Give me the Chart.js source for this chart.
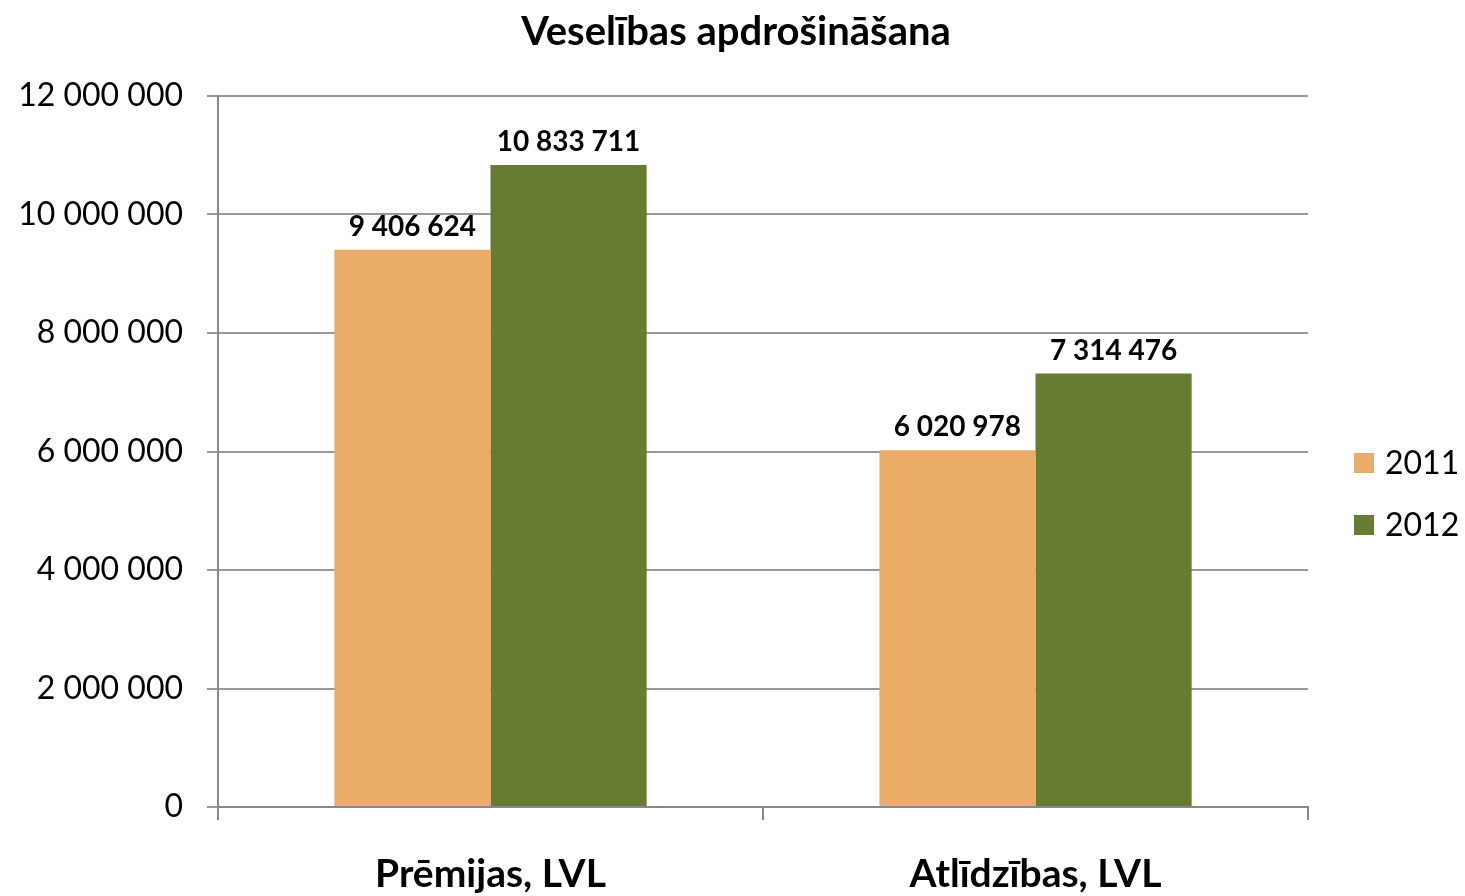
<!DOCTYPE html>
<html>
<head>
<meta charset="utf-8">
<script src="https://cdn.jsdelivr.net/npm/chart.js@4"></script>
<style>
  html, body { margin: 0; padding: 0; background: #fff; }
  #wrap { width: 1465px; height: 896px; }
</style>
</head>
<body>
<div id="wrap"><canvas id="chart" width="1465" height="896"></canvas></div>
<script>
const title = "Veselības apdrošināšana";
const categories = ["Prēmijas, LVL", "Atlīdzības, LVL"];
const years = ["2011", "2012"];
const values2011 = [9406624, 6020978];
const values2012 = [10833711, 7314476];
const colors = ["#ebac67", "#667c33"];
const FONT = "Lato, 'Open Sans', sans-serif";

// 10833711 -> "10 833 711"
const fmt = v => String(v).replace(/\B(?=(\d{3})+(?!\d))/g, " ");

// title, value labels and legend drawn on the canvas
const extras = {
    id: "extras",
    afterDatasetsDraw(chart) {
        const c = chart.ctx;
        c.save();
        c.fillStyle = "#000";
        c.textAlign = "center";
        c.textBaseline = "alphabetic";
        c.font = "bold 28px " + FONT;
        chart.data.datasets.forEach((ds, i) => {
            chart.getDatasetMeta(i).data.forEach((bar, j) => {
                c.fillText(fmt(ds.data[j]), bar.x, bar.y - 14);
            });
        });
        c.font = "bold 40px " + FONT;
        c.textBaseline = "middle";
        c.fillText(title, 736, 32);
        c.textAlign = "left";
        c.font = "32px " + FONT;
        years.forEach((y, i) => {
            const cy = 463 + i * 62;
            c.fillStyle = colors[i];
            c.fillRect(1354, cy - 10, 20, 20);
            c.fillStyle = "#000";
            c.fillText(y, 1385, cy + 1);
        });
        c.restore();
    }
};

new Chart(document.getElementById("chart"), {
    type: "bar",
    data: {
        labels: categories,
        datasets: years.map((y, i) => ({
            label: y,
            data: i === 0 ? values2011 : values2012,
            backgroundColor: colors[i],
            categoryPercentage: 0.573,
            barPercentage: 1
        }))
    },
    options: {
        responsive: false,
        animation: false,
        layout: { padding: { top: 96, right: 157, left: 0, bottom: 0 } },
        plugins: { legend: { display: false }, tooltip: { enabled: false } },
        scales: {
            x: {
                afterFit: s => { s.height = 89; },
                grid: { offset: true, drawOnChartArea: false, drawTicks: true, tickLength: 13, color: "#888", lineWidth: 2 },
                border: { color: "#888", width: 2 },
                ticks: { color: "#000", font: { family: FONT, size: 39, weight: "bold" }, padding: 31 }
            },
            y: {
                min: 0,
                max: 12000000,
                afterFit: s => { s.width = 218; },
                grid: { color: "#999", lineWidth: 2, tickLength: 11 },
                border: { color: "#888", width: 2 },
                ticks: {
                    stepSize: 2000000,
                    color: "#000",
                    padding: 24,
                    font: { family: FONT, size: 32 },
                    callback: v => fmt(v)
                }
            }
        }
    },
    plugins: [extras]
});
</script>
</body>
</html>
